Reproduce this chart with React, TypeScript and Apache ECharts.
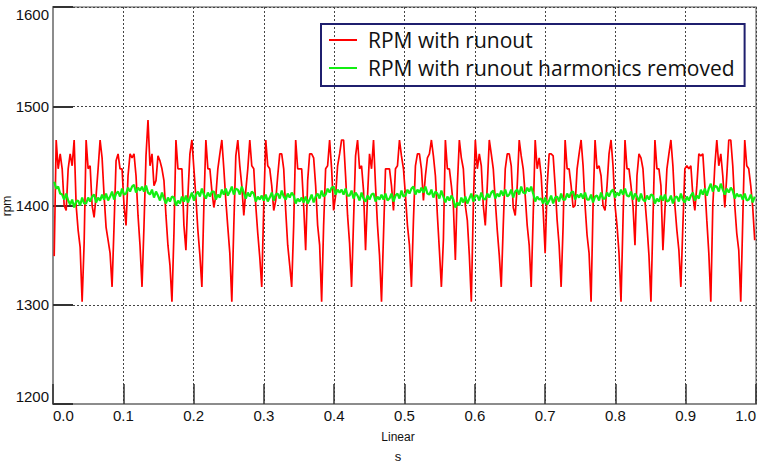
import React, { useEffect, useRef } from "react";
import * as echarts from "echarts";

// time base of the sampled signals (seconds)
const T0 = 0.0017;
const DT = 0.002839;

const xTicks = ["0.0", "0.1", "0.2", "0.3", "0.4", "0.5", "0.6", "0.7", "0.8", "0.9", "1.0"];
const yTicks = [1200, 1300, 1400, 1500, 1600];
const seriesNames = ["RPM with runout", "RPM with runout harmonics removed"];

const rpmWithRunout = [
  1349, 1466, 1437, 1452, 1437, 1400, 1395, 1437, 1452, 1440, 1466, 1400, 1375, 1358,
  1303, 1362, 1466, 1437, 1440, 1400, 1388, 1410, 1437, 1466, 1448, 1410, 1378, 1365, 1352,
  1318, 1380, 1445, 1452, 1437, 1437, 1400, 1380, 1430, 1452, 1448, 1452, 1430, 1390, 1360,
  1318, 1380, 1450, 1486, 1440, 1452, 1420, 1425, 1450, 1445, 1437, 1425, 1390, 1360, 1340,
  1303, 1372, 1466, 1437, 1437, 1437, 1380, 1355, 1410, 1452, 1466, 1437, 1408, 1375, 1350,
  1318, 1400, 1466, 1437, 1437, 1415, 1398, 1410, 1437, 1452, 1466, 1437, 1405, 1378, 1352,
  1303, 1380, 1450, 1466, 1440, 1420, 1390, 1415, 1437, 1466, 1440, 1437, 1400, 1372, 1348,
  1318, 1400, 1466, 1440, 1437, 1420, 1395, 1405, 1430, 1452, 1452, 1437, 1395, 1360, 1340,
  1318, 1380, 1466, 1437, 1437, 1437, 1400, 1355, 1425, 1452, 1452, 1448, 1420, 1380, 1360,
  1303, 1380, 1437, 1440, 1466, 1437, 1395, 1410, 1440, 1452, 1466, 1466, 1430, 1390, 1362,
  1318, 1385, 1450, 1466, 1437, 1440, 1415, 1355, 1410, 1452, 1437, 1466, 1420, 1380, 1350,
  1303, 1370, 1437, 1437, 1437, 1420, 1395, 1437, 1440, 1466, 1450, 1437, 1410, 1380, 1360,
  1318, 1385, 1440, 1452, 1452, 1437, 1405, 1430, 1448, 1452, 1466, 1450, 1430, 1390, 1355,
  1318, 1365, 1466, 1437, 1437, 1420, 1400, 1345, 1420, 1466, 1448, 1437, 1400, 1385, 1350,
  1303, 1400, 1466, 1437, 1452, 1440, 1400, 1380, 1420, 1466, 1452, 1437, 1405, 1375, 1350,
  1318, 1380, 1437, 1452, 1452, 1440, 1398, 1390, 1420, 1466, 1450, 1437, 1410, 1380, 1360,
  1318, 1390, 1466, 1437, 1448, 1430, 1395, 1352, 1420, 1452, 1452, 1450, 1420, 1385, 1360,
  1318, 1380, 1466, 1437, 1437, 1420, 1398, 1400, 1437, 1452, 1466, 1440, 1400, 1370, 1352,
  1303, 1400, 1466, 1437, 1440, 1430, 1400, 1395, 1420, 1452, 1466, 1440, 1400, 1380, 1352,
  1303, 1385, 1466, 1437, 1437, 1420, 1400, 1360, 1430, 1452, 1448, 1437, 1405, 1380, 1350,
  1303, 1385, 1466, 1437, 1437, 1420, 1355, 1395, 1437, 1452, 1466, 1440, 1400, 1375, 1355,
  1318, 1380, 1437, 1440, 1437, 1440, 1410, 1395, 1420, 1452, 1450, 1452, 1420, 1385, 1352,
  1303, 1400, 1440, 1466, 1440, 1452, 1430, 1398, 1430, 1466, 1466, 1440, 1400, 1372, 1355,
  1303, 1385, 1466, 1440, 1437, 1420, 1398, 1365,
];

const rpmHarmonicsRemoved = [
  1424, 1417, 1419, 1412, 1411, 1406, 1412, 1405, 1401, 1406, 1398, 1404, 1405, 1400, 1408, 1402,
  1402, 1408, 1404, 1409, 1411, 1403, 1408, 1405, 1411, 1406, 1412, 1405, 1409, 1414, 1406, 1412,
  1414, 1409, 1417, 1411, 1412, 1418, 1414, 1419, 1421, 1413, 1418, 1415, 1419, 1414, 1420, 1413,
  1411, 1416, 1408, 1414, 1410, 1405, 1413, 1407, 1402, 1408, 1404, 1409, 1408, 1400, 1405, 1402,
  1409, 1404, 1410, 1403, 1408, 1413, 1405, 1411, 1414, 1409, 1417, 1411, 1407, 1413, 1409, 1414,
  1414, 1406, 1411, 1408, 1416, 1411, 1417, 1410, 1414, 1419, 1411, 1417, 1416, 1411, 1419, 1413,
  1407, 1413, 1409, 1414, 1412, 1404, 1409, 1406, 1410, 1405, 1411, 1404, 1408, 1413, 1405, 1411,
  1412, 1407, 1415, 1409, 1406, 1412, 1408, 1413, 1410, 1402, 1407, 1404, 1408, 1403, 1409, 1402,
  1406, 1411, 1403, 1409, 1412, 1407, 1415, 1409, 1411, 1417, 1413, 1418, 1419, 1411, 1416, 1413,
  1416, 1411, 1417, 1410, 1410, 1415, 1407, 1413, 1410, 1405, 1413, 1407, 1404, 1410, 1406, 1411,
  1412, 1404, 1409, 1406, 1411, 1406, 1412, 1405, 1407, 1412, 1404, 1410, 1412, 1407, 1415, 1409,
  1410, 1416, 1412, 1417, 1419, 1411, 1416, 1413, 1418, 1413, 1419, 1412, 1411, 1416, 1408, 1414,
  1412, 1407, 1415, 1409, 1403, 1409, 1405, 1410, 1406, 1398, 1403, 1400, 1408, 1403, 1409, 1402,
  1407, 1412, 1404, 1410, 1410, 1405, 1413, 1407, 1406, 1412, 1408, 1413, 1415, 1407, 1412, 1409,
  1415, 1410, 1416, 1409, 1411, 1416, 1408, 1414, 1416, 1411, 1419, 1413, 1412, 1418, 1414, 1419,
  1412, 1404, 1409, 1406, 1407, 1402, 1408, 1401, 1405, 1410, 1402, 1408, 1409, 1404, 1412, 1406,
  1406, 1412, 1408, 1413, 1414, 1406, 1411, 1408, 1412, 1407, 1413, 1406, 1406, 1411, 1403, 1409,
  1410, 1405, 1413, 1407, 1407, 1413, 1409, 1414, 1416, 1408, 1413, 1410, 1416, 1411, 1417, 1410,
  1409, 1414, 1406, 1412, 1409, 1404, 1412, 1406, 1404, 1410, 1406, 1411, 1410, 1402, 1407, 1404,
  1410, 1405, 1411, 1404, 1405, 1410, 1402, 1408, 1409, 1404, 1412, 1406, 1403, 1409, 1405, 1410,
  1413, 1405, 1410, 1407, 1416, 1411, 1417, 1410, 1417, 1422, 1414, 1420, 1419, 1414, 1422, 1416,
  1411, 1417, 1413, 1418, 1415, 1407, 1412, 1409, 1411, 1406, 1412, 1405, 1406, 1411, 1403, 1409,
];

const toPoints = (vals: number[]) => vals.map((v, i) => [T0 + i * DT, v]);

export default function App() {
  const ref = useRef<HTMLDivElement>(null);
  useEffect(() => {
    if (!ref.current) return;
    const chart = echarts.init(ref.current, null, { renderer: "svg" });
    const gridColor = "#444";
    chart.setOption({
      animation: false,
      backgroundColor: "#ffffff",
      grid: {
        left: 53,
        right: 5,
        top: 7,
        bottom: 61,
        show: true,
        borderColor: "#8c8c8c",
        borderWidth: 1.5,
      },
      legend: {
        orient: "vertical",
        left: 321,
        top: 24,
        borderColor: "#1f1f6e",
        borderWidth: 2,
        padding: [4, 10, 6, 8],
        itemWidth: 28,
        itemHeight: 2,
        itemGap: 4,
        icon: "rect",
        textStyle: {
          fontFamily: "Open Sans",
          fontSize: 21,
          lineHeight: 24,
          color: "#111",
          padding: [0, 0, 0, 6],
        },
        data: seriesNames,
      },
      xAxis: {
        type: "value",
        min: 0,
        max: 1,
        interval: 0.1,
        z: 3,
        axisLine: { show: true, lineStyle: { color: "#8c8c8c", width: 2 } },
        axisTick: { show: true, inside: true, length: 20, lineStyle: { color: "#333", width: 1.5 } },
        axisLabel: {
          color: "#111",
          fontFamily: "Liberation Sans",
          fontSize: 15,
          margin: 4,
          alignMinLabel: "left",
          alignMaxLabel: "right",
          formatter: (v: number) => xTicks[Math.round(v * 10)] ?? "",
        },
        splitLine: { show: true, lineStyle: { color: gridColor, type: [2, 2], width: 1 } },
      },
      yAxis: {
        type: "value",
        min: yTicks[0],
        max: yTicks[yTicks.length - 1],
        interval: 100,
        z: 3,
        axisLine: { show: true, lineStyle: { color: "#8c8c8c", width: 2 } },
        axisTick: { show: true, inside: true, length: 20, lineStyle: { color: "#333", width: 2 } },
        axisLabel: {
          color: "#111",
          fontFamily: "Liberation Sans",
          fontSize: 15,
          margin: 4,
          verticalAlignMinLabel: "bottom",
          verticalAlignMaxLabel: "top",
          formatter: (v: number) => String(v),
        },
        splitLine: { show: true, lineStyle: { color: gridColor, type: [2, 2], width: 1 } },
      },
      series: [
        {
          name: seriesNames[0],
          type: "line",
          data: toPoints(rpmWithRunout),
          showSymbol: false,
          symbol: "none",
          lineStyle: { color: "#ff0000", width: 1.7 },
          itemStyle: { color: "#ff0000" },
        },
        {
          name: seriesNames[1],
          type: "line",
          data: toPoints(rpmHarmonicsRemoved),
          showSymbol: false,
          symbol: "none",
          lineStyle: { color: "#11ee11", width: 2.2 },
          itemStyle: { color: "#11ee11" },
        },
      ],
      graphic: [
        {
          type: "text",
          x: 398,
          y: 437,
          style: {
            text: "Linear",
            fontFamily: "Liberation Sans",
            fontSize: 12,
            fill: "#111",
            textAlign: "center",
            textVerticalAlign: "middle",
          },
        },
        {
          type: "text",
          x: 398,
          y: 456,
          style: {
            text: "s",
            fontFamily: "Liberation Sans",
            fontSize: 13,
            fill: "#111",
            textAlign: "center",
            textVerticalAlign: "middle",
          },
        },
        {
          type: "text",
          x: 7,
          y: 206,
          rotation: Math.PI / 2,
          style: {
            text: "rpm",
            fontFamily: "Liberation Sans",
            fontSize: 12,
            fill: "#111",
            textAlign: "center",
            textVerticalAlign: "middle",
          },
        },
      ],
    });
    return () => chart.dispose();
  }, []);
  return <div ref={ref} style={{ width: 761, height: 465, position: "absolute", left: 0, top: 0 }} />;
}
